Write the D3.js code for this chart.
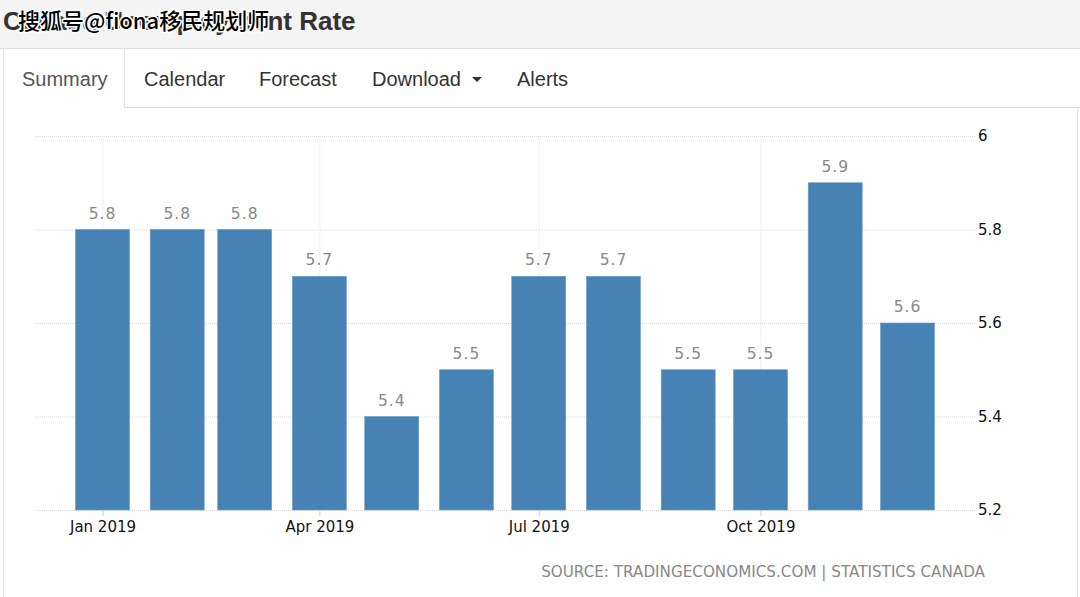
<!DOCTYPE html>
<html>
<head>
<meta charset="utf-8">
<script src="https://cdn.jsdelivr.net/npm/d3@7"></script>
<style>
	body { margin: 0; background: #fff; }
	svg { display: block; }
</style>
</head>
<body>
<div id="chart"></div>
<script>
var WIDTH = 1080;
var HEIGHT = 597;

// monthly data, Canada unemployment rate 2019
var months = ["2019-01-01","2019-02-01","2019-03-01","2019-04-01","2019-05-01","2019-06-01",
	"2019-07-01","2019-08-01","2019-09-01","2019-10-01","2019-11-01","2019-12-01"];
var rates = [5.8, 5.8, 5.8, 5.7, 5.4, 5.5, 5.7, 5.7, 5.5, 5.5, 5.9, 5.6];
var yTicks = [5.2, 5.4, 5.6, 5.8, 6];
var xTicks = ["2019-01-01","2019-04-01","2019-07-01","2019-10-01"];
var tabs = ["Summary", "Calendar", "Forecast", "Download", "Alerts"];
var tabX = [22, 144, 259, 372, 517];

var parse = d3.utcParse("%Y-%m-%d");

var svg = d3.select('#chart').append('svg')
	.attr('width', WIDTH).attr('height', HEIGHT);

// header band with title
svg.append('rect').attr('x',0).attr('y',0).attr('width',WIDTH).attr('height',48).attr('fill','#f4f4f4');
svg.append('line').attr('x1',0).attr('x2',WIDTH).attr('y1',48.5).attr('y2',48.5).attr('stroke','#dcdcdc');
svg.append('text').attr('x',3).attr('y',30)
	.attr('font-family','Liberation Sans, Arial, sans-serif').attr('font-weight','bold')
	.attr('font-size',26).attr('fill','#333')
	.text('Canada Unemployment Rate');
// watermark over title (as in the source image)
svg.append('text').attr('x',18).attr('y',29)
	.attr('font-family','Noto Sans CJK SC, sans-serif')
	.attr('font-size',22).attr('font-weight',500).attr('fill','#000')
	.attr('stroke','#fff').attr('stroke-width',3).attr('paint-order','stroke')
	.attr('stroke-linejoin','round')
	.text('搜狐号@fiona移民规划师');

// tabs
svg.append('line').attr('x1',124).attr('x2',WIDTH).attr('y1',107.5).attr('y2',107.5).attr('stroke','#dcdcdc');
svg.append('path').attr('d','M3.5,597V48.5M124.5,48.5V107.5').attr('fill','none').attr('stroke','#e2e2e2');
svg.append('line').attr('x1',1077.5).attr('x2',1077.5).attr('y1',108).attr('y2',HEIGHT).attr('stroke','#e6e6e6');
svg.selectAll('.tab').data(tabs).enter().append('text')
	.attr('class','tab')
	.attr('x', (d,i) => tabX[i]).attr('y', 86)
	.attr('font-family','Liberation Sans, Arial, sans-serif')
	.attr('font-size',20)
	.attr('fill', (d,i) => i == 0 ? '#555' : '#333')
	.text(d => d);
svg.append('path').attr('d','M472,77L482,77L477,82Z').attr('fill','#333');

// chart area
var x = d3.scaleUtc()
	.domain([parse("2018-12-04"), parse("2019-12-29")])
	.range([35, 975]);
var y = d3.scaleLinear().domain([5.2, 6]).range([510, 136]);
var barWidth = 54;

// horizontal grid lines
var yLines = svg.append('g').attr('transform','translate(975,0)')
	.call(d3.axisLeft(y).tickValues(yTicks).tickFormat('').tickSize(940).tickSizeOuter(0));
yLines.selectAll('path').remove();
yLines.selectAll('.tick line').attr('stroke','#d8d8d8').attr('stroke-dasharray','1,1');

// vertical grid lines
var xLines = svg.append('g').attr('transform','translate(0,136)')
	.call(d3.axisBottom(x).tickValues(xTicks.map(parse)).tickFormat('').tickSize(374));
xLines.selectAll('path').remove();
xLines.selectAll('.tick line').attr('stroke','#e4e4e4').attr('stroke-dasharray','1,1');

// bars
svg.selectAll('.bar').data(rates).enter().append('rect')
	.attr('class','bar')
	.attr('x', (d,i) => x(parse(months[i])) - barWidth/2)
	.attr('width', barWidth)
	.attr('y', d => y(d))
	.attr('height', d => y(5.2) - y(d))
	.attr('fill','#4682b4')
	.attr('stroke','#6f9cc6').attr('stroke-width',0.6);

// value labels
svg.selectAll('.val').data(rates).enter().append('text')
	.attr('class','val')
	.attr('x', (d,i) => x(parse(months[i])))
	.attr('y', d => y(d) - 11)
	.attr('text-anchor','middle')
	.attr('font-family','DejaVu Sans, Verdana, sans-serif')
	.attr('font-size',15.5).attr('letter-spacing',1)
	.attr('fill','#888')
	.text(d => d3.format('.1f')(d));

// x axis
var xAxis = svg.append('g').attr('transform','translate(0,510)')
	.call(d3.axisBottom(x).tickValues(xTicks.map(parse))
		.tickFormat(d3.utcFormat('%b %Y')).tickSize(6).tickPadding(5));
xAxis.selectAll('path').remove();
xAxis.selectAll('.tick line').attr('stroke','#ccc');
xAxis.selectAll('text').attr('font-family','DejaVu Sans, Verdana, sans-serif')
	.attr('font-size',15).attr('fill','#111');

// y axis on the right
var yAxis = svg.append('g').attr('transform','translate(975,0)')
	.call(d3.axisRight(y).tickValues(yTicks).tickFormat(d => String(d)).tickSize(0).tickPadding(3));
yAxis.selectAll('path').remove();
yAxis.selectAll('text').attr('font-family','DejaVu Sans, Verdana, sans-serif')
	.attr('font-size',15).attr('fill','#111');

// source note
svg.append('text').attr('x',985).attr('y',577)
	.attr('text-anchor','end')
	.attr('font-family','DejaVu Sans, Verdana, sans-serif')
	.attr('font-size',15.2).attr('fill','#888')
	.text('SOURCE: TRADINGECONOMICS.COM | STATISTICS CANADA');
</script>
</body>
</html>
